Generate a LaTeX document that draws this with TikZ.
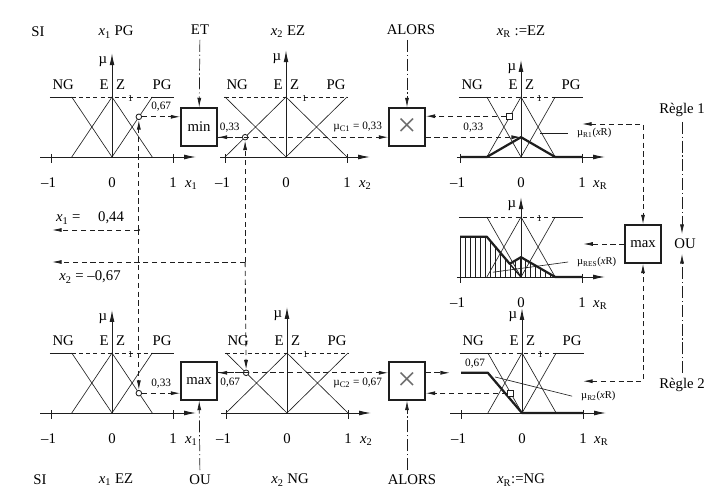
\documentclass[tikz,border=0pt]{standalone}
\usepackage{fontspec}
\setmainfont{Liberation Serif}
\usetikzlibrary{arrows.meta, calc}
\definecolor{cink}{HTML}{1E1E1E}
\definecolor{cgrey}{HTML}{6B6B6B}
\tikzset{
  every picture/.style={font=\fontsize{10.5}{12}\selectfont, line width=0.5pt},
  box/.style={draw=cink, line width=0.9pt, minimum width=9mm, minimum height=9.5mm, inner sep=0pt},
  xbox/.style={box, font=\fontsize{24}{24}\selectfont, text=cgrey},
  flow/.style={draw=cink, line width=0.6pt, dash pattern=on 1.3mm off 0.9mm, arrows={-Latex[length=2.4mm, width=1mm]}},
  bothtips/.style={arrows={Latex[length=2.4mm, width=1mm]-Latex[length=2.4mm, width=1mm]}},
  ctrl/.style={draw=cink, line width=0.5pt, dash pattern=on 3mm off 0.7mm on 0.3mm off 0.7mm, arrows={-Latex[length=2.4mm, width=1mm]}},
  axis/.style={draw=cink, line width=0.7pt, arrows={-Latex[length=3mm, width=1.2mm]}},
  memb/.style={draw=cink, line width=0.45pt},
  topline/.style={draw=cink, line width=0.45pt, dash pattern=on 1mm off 0.8mm},
  res/.style={draw=cink, line width=1.6pt, line join=round},
  dot/.style={circle, draw=cink, fill=white, line width=0.6pt, inner sep=0pt, minimum size=1.4mm},
  marker/.style={rectangle, draw=cink, fill=white, line width=0.6pt, inner sep=0pt, minimum size=1.5mm},
  small/.style={font=\fontsize{8}{9}\selectfont},
  curvelab/.style={font=\fontsize{7.5}{8}\selectfont},
  tiny/.style={font=\fontsize{6.5}{7}\selectfont},
  panel/.style={x=15.25mm, y=15mm},
}
% one membership diagram: #1 half width of EZ, #2 top of mu axis, #3 index of x, #4 left end of x axis
\newcommand{\mfpanel}[4]{%
  \draw[axis] (#4,0) -- (1.38,0);
  \draw[axis] (0,0) -- (0,#2);
  \node at (-0.15,#2-0.14) {µ};
  \draw[memb] (-1,0.05) -- (-1,-0.1) (1,0.05) -- (1,-0.1);
  \node at (-1.04,-0.42) {–1};
  \node at (0,-0.42) {0};
  \node at (1,-0.42) {1};
  \node at (1.3,-0.47) {\textit{x}\textsubscript{#3}};
  \draw[memb] (-1.02,1) -- (-#1,1) (#1,1) -- (1.02,1);
  \draw[topline] (-#1,1) -- (#1,1);
  \draw[memb] (-#1,1) -- (0,0) -- (#1,1) (-#1,0) -- (0,1) -- (#1,0);
  \node[tiny] at (0.3,0.98) {1};
}
\newcommand{\mfnames}{%
  \node at (-0.8,1.2) {NG};
  \node at (-0.13,1.2) {E};
  \node at (0.14,1.2) {Z};
  \node at (0.82,1.2) {PG};
}

\begin{document}
\begin{tikzpicture}[x=0.25mm, y=-0.25mm]
  \useasboundingbox (0,0) rectangle (709,493);
  % rule 1: top row
  \node (si1) at (38,32) {SI};
  \node (x1pg) at (116,32) {\textit{x}\textsubscript{1} PG};
  \node (et) at (200,30) {ET};
  \node (x2ez) at (288,32) {\textit{x}\textsubscript{2} EZ};
  \node (alors1) at (411,30) {ALORS};
  \node (xrez) at (521,32) {\textit{x}\textsubscript{R} :=EZ};
  \begin{scope}[shift={(112,157)}, panel]
    \mfpanel{0.66}{1.73}{1}{-1.18}
    \mfnames
    \node[dot] (c1) at (0.44,0.67) {};
  \end{scope}
  \begin{scope}[shift={(286,157)}, panel]
    \mfpanel{1}{1.78}{2}{-1.08}
    \mfnames
    \node[dot] (c2) at (-0.67,0.33) {};
  \end{scope}
  \begin{scope}[shift={(521,157)}, panel]
    \mfpanel{0.56}{1.62}{R}{-1.05}
    \mfnames
    \draw[res] (-1,0) -- (-0.56,0) -- (0,0.33) -- (0.56,0) -- (1,0);
    \node[marker] (s3) at (-0.19,0.68) {};
    \coordinate (k3) at (0,0.33);
    \coordinate (r1) at (1.0,0.55);
    \node[curvelab] (lr1) at (1.2,0.4) {µ\textsubscript{R1}(\textit{x}R)};
    \draw[memb] (0.31,0.4) -- ([xshift=-1mm]lr1.west);
  \end{scope}
  \node[box] (minbox) at (199,127) {min};
  \node[xbox] (xtop) at (407,127) {×};
  % result of both rules
  \begin{scope}[shift={(521,277)}, panel]
    \mfpanel{0.56}{1.33}{R}{-1.05}
    \begin{scope}
      \clip (-1,0) -- (-1,0.67) -- (-0.56,0.67) -- (-0.185,0.22) -- (0,0.33) -- (0.56,0) -- cycle;
      \foreach \h in {-1,-0.918,...,0.56}
        \draw[memb] (\h,0) -- (\h,0.7);
    \end{scope}
    \draw[memb] (-1,0) -- (-1,0.67);
    \draw[res] (-1,0.67) -- (-0.56,0.67) -- (-0.185,0.22) -- (0,0.33) -- (0.56,0) -- (1,0);
    \draw[res, line width=1pt] (-0.185,0.22) -- (0,0);
    \coordinate (m4) at (1.02,0.55);
    \node[curvelab] (lres) at (1.24,0.25) {µ\textsubscript{RES}(\textit{x}R)};
    \draw[memb] (-0.46,0.08) -- ([xshift=-1mm]lres.west);
  \end{scope}
  \node[box] (maxr) at (643,244) {max};
  \node (rule1) at (682,110) {Règle 1};
  \node (ou) at (685,244) {OU};
  \node (rule2) at (682,385) {Règle 2};
  % rule 2: bottom row
  \begin{scope}[shift={(112,413)}, panel]
    \mfpanel{0.66}{1.72}{1}{-1.18}
    \mfnames
    \node[dot] (c5) at (0.44,0.33) {};
  \end{scope}
  \begin{scope}[shift={(287,413)}, panel]
    \mfpanel{1}{1.77}{2}{-1.08}
    \mfnames
    \node[dot] (c6) at (-0.67,0.67) {};
  \end{scope}
  \begin{scope}[shift={(522,413)}, panel]
    \mfpanel{0.56}{1.75}{R}{-1.18}
    \mfnames
    \draw[res] (-1,0.67) -- (-0.56,0.67) -- (0,0) -- (1,0);
    \node[small] at (-0.77,0.82) {0,67};
    \node[marker] (s7) at (-0.19,0.33) {};
    \coordinate (k7) at (-1.18,0.67);
    \coordinate (r2) at (1.0,0.53);
    \node[curvelab] (lr2) at (1.25,0.28) {µ\textsubscript{R2}(\textit{x}R)};
    \draw[memb] (-0.44,0.6) -- ([xshift=-1mm]lr2.west);
  \end{scope}
  \node[box] (maxb) at (199,381) {max};
  \node[xbox] (xbot) at (407,381) {×};
  \node (si2) at (40,480) {SI};
  \node (x1ez) at (116,480) {\textit{x}\textsubscript{1} EZ};
  \node (ou2) at (200,480) {OU};
  \node (x2ng) at (290,480) {\textit{x}\textsubscript{2} NG};
  \node (alors2) at (412,480) {ALORS};
  \node (xrng) at (521,480) {\textit{x}\textsubscript{R}:=NG};
  % inputs
  \coordinate (x1end) at (52,230);
  \coordinate (x2end) at (52,262);
  \node (x1val) at (90,218) {\textit{x}\textsubscript{1} =\hspace{1.2em}0,44};
  \node (x2val) at (90,277) {\textit{x}\textsubscript{2} = –0,67};
  \draw[flow] (c1 |- x1end) -- (x1end);
  \fill[cink] (c1 |- x1end) circle (0.9pt);
  \draw[flow] (c1 |- x1end) -- (c1);
  \draw[flow] (c1 |- x1end) -- (c5);
  \draw[flow] (c2 |- x2end) -- (x2end);
  \draw[flow] (c2 |- x2end) -- (c2);
  \draw[flow] (c2 |- x2end) -- (c6);
  % rule 1 connectors
  \draw[ctrl] (et) -- (minbox);
  \draw[ctrl] (alors1.south -| xtop) -- (xtop);
  \draw[flow] (c1) -- (c1 -| minbox.west) node[small, midway, above] {0,67};
  \draw[flow] (c2) -- (c2 -| minbox.east) node[small, midway, above] {0,33};
  \draw[flow] (c2 -| minbox.east) -- (c2 -| xtop.west) node[small, pos=0.82, above] {µ\textsubscript{C1} = 0,33};
  \draw[flow] (s3) -- (s3 -| xtop.east);
  \draw[flow] (xtop.east |- k3) -- (k3) node[small, midway, above] {0,33};
  % rule 2 connectors
  \draw[ctrl] (ou2) -- (maxb);
  \draw[ctrl] (alors2.north -| xbot) -- (xbot);
  \draw[flow] (c5) -- (c5 -| maxb.west) node[small, midway, above] {0,33};
  \draw[flow] (c6) -- (c6 -| maxb.east) node[small, midway, below] {0,67};
  \draw[flow] (c6 -| maxb.east) -- (c6 -| xbot.west) node[small, pos=0.82, below] {µ\textsubscript{C2} = 0,67};
  \draw[flow] (s7) -- (s7 -| xbot.east);
  \draw[flow] (xbot.east |- k7) -- (k7);
  % OU of the two rules
  \draw[flow, bothtips] (r1) -| (maxr.north);
  \draw[flow, bothtips] (r2) -| (maxr.south);
  \draw[flow] (maxr.west) -- (maxr.west -| m4);
  \draw[ctrl] (rule1.south) -- (rule1.south |- ou.north);
  \draw[ctrl] (rule2.north) -- (rule2.north |- ou.south);
\end{tikzpicture}
\end{document}
